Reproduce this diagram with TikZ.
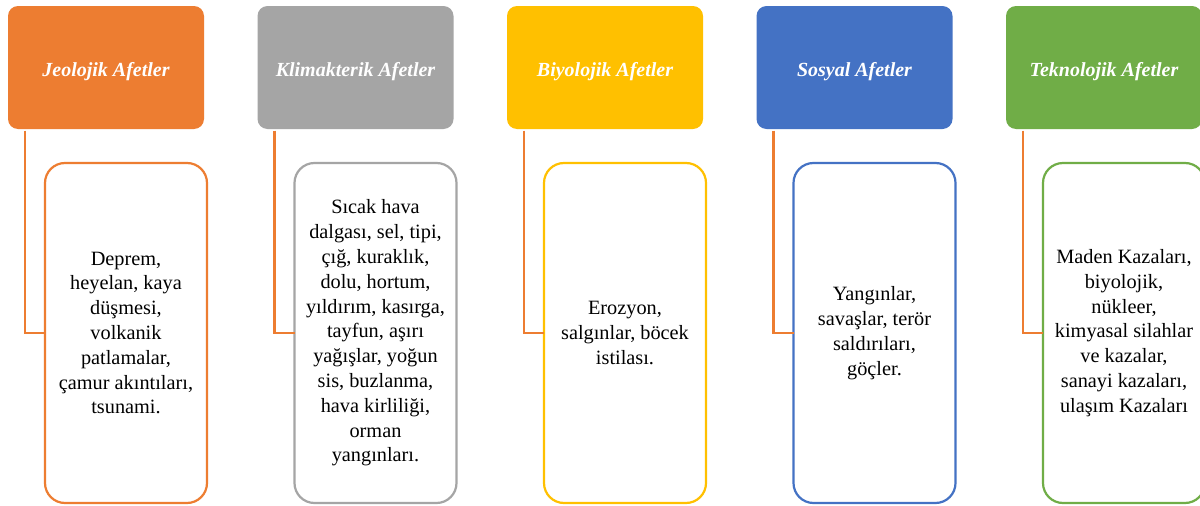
\documentclass[tikz,border=0pt]{standalone}
\usepackage{fontspec}
\setmainfont{Liberation Serif}
\definecolor{cOrange}{HTML}{ED7D31}
\definecolor{cGray}{HTML}{A5A5A5}
\definecolor{cGold}{HTML}{FFC000}
\definecolor{cBlue}{HTML}{4472C4}
\definecolor{cGreen}{HTML}{70AD47}
\newcommand{\hdtext}[1]{\raisebox{-8.5pt}[0pt][0pt]{#1}}
\begin{document}
\begin{tikzpicture}[x=1pt,y=-1pt,
  head/.style={rectangle, rounded corners=10pt, fill=#1, draw=none,
    minimum width=196pt, minimum height=123pt, inner sep=0pt, outer sep=0pt,
    text=white, font=\fontsize{20}{24}\selectfont\bfseries\itshape},
  detail/.style={rectangle, rounded corners=20pt, draw=#1, line width=2.2pt, fill=white,
    minimum width=162pt, minimum height=340pt, inner sep=0pt, outer sep=0pt,
    align=center, text=black, font=\fontsize{20.3}{24.8}\selectfont},
  link/.style={draw=cOrange, line width=2.2pt}]
\useasboundingbox (0,0) rectangle (1200,506);
\fill[white] (0,0) rectangle (1200,506);
% headers
\node[head=cOrange] (h1) at (106,67.5) {\hdtext{Jeolojik Afetler}};
\node[head=cGray]   (h2) at (355.5,67.5) {\hdtext{Klimakterik Afetler}};
\node[head=cGold]   (h3) at (605,67.5) {\hdtext{Biyolojik Afetler}};
\node[head=cBlue]   (h4) at (854.5,67.5) {\hdtext{Sosyal Afetler}};
\node[head=cGreen]  (h5) at (1104,67.5) {\hdtext{Teknolojik Afetler}};
% details
\node[detail=cOrange] (d1) at (126,333) {Deprem,\\heyelan, kaya\\düşmesi,\\volkanik\\patlamalar,\\çamur akıntıları,\\tsunami.};
\node[detail=cGray]   (d2) at (375.5,333) {Sıcak hava\\dalgası, sel, tipi,\\çığ, kuraklık,\\dolu, hortum,\\yıldırım, kasırga,\\tayfun, aşırı\\yağışlar, yoğun\\sis, buzlanma,\\hava kirliliği,\\orman\\yangınları.};
\node[detail=cGold]   (d3) at (625,333) {Erozyon,\\salgınlar, böcek\\istilası.};
\node[detail=cBlue]   (d4) at (874.5,333) {Yangınlar,\\savaşlar, terör\\saldırıları,\\göçler.};
\node[detail=cGreen]  (d5) at (1124,333) {Maden Kazaları,\\biyolojik,\\nükleer,\\kimyasal silahlar\\ve kazalar,\\sanayi kazaları,\\ulaşım Kazaları};
% connectors
\foreach \i in {1,...,5}{
  \draw[link] (h\i.south west) ++(17,1.5) |- (d\i.west);
}
\end{tikzpicture}
\end{document}
